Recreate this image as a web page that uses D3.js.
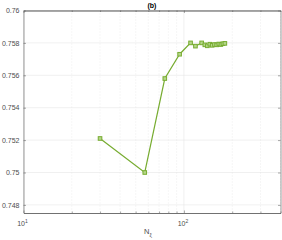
<!DOCTYPE html>
<html>
<head>
<meta charset="utf-8">
<script src="https://cdn.jsdelivr.net/npm/d3@7"></script>
<style>
  body { margin: 0; background: #fff; }
  svg { font-family: Helvetica, Arial, "Liberation Sans", sans-serif; }
</style>
</head>
<body>
<div class="chart"></div>
<script>
// values
var nXi = [30, 57, 76, 94, 110, 118, 129, 135, 140, 145, 150, 155, 160, 165, 170, 175, 180];
var acc = [0.7521, 0.7500, 0.7558, 0.7573, 0.7580, 0.7578, 0.7580, 0.75788, 0.75782, 0.75792,
           0.75785, 0.75790, 0.75788, 0.75793, 0.75790, 0.75795, 0.75797];
var yTicks = [0.748, 0.75, 0.752, 0.754, 0.756, 0.758, 0.76];
var yTickLabels = ['0.748', '0.75', '0.752', '0.754', '0.756', '0.758', '0.76'];
var xMajor = [10, 100];
var xMinor = [20, 30, 40, 50, 60, 70, 80, 90, 200, 300, 400];

var w = 282
  , h = 240
  , m = { top: 10.5, right: 1.5, bottom: 27, left: 23.5 }
  , green = '#77ac30'
  , axisCol = '#262626';

var svg = d3.select('.chart')
            .append('svg')
            .attr('width', w)
            .attr('height', h);

var x = d3.scaleLog().domain([10, 400]).range([m.left, w - m.right]);
var y = d3.scaleLinear().domain([0.7475, 0.76]).range([h - m.bottom, m.top]);

var g = svg.append('g');

// grid
g.selectAll('line.ygrid')
  .data(yTicks)
  .enter()
  .append('line')
  .attr('x1', m.left).attr('x2', w - m.right)
  .attr('y1', function (d) { return y(d); })
  .attr('y2', function (d) { return y(d); })
  .attr('stroke', '#e6e6e6')
  .attr('stroke-width', 0.6);

g.selectAll('line.xgrid')
  .data(xMajor)
  .enter()
  .append('line')
  .attr('x1', function (d) { return x(d); })
  .attr('x2', function (d) { return x(d); })
  .attr('y1', m.top).attr('y2', h - m.bottom)
  .attr('stroke', '#e6e6e6')
  .attr('stroke-width', 0.6);

g.selectAll('line.xminor')
  .data(xMinor)
  .enter()
  .append('line')
  .attr('x1', function (d) { return x(d); })
  .attr('x2', function (d) { return x(d); })
  .attr('y1', m.top).attr('y2', h - m.bottom)
  .attr('stroke', '#e2e2e2')
  .attr('stroke-width', 0.6)
  .attr('stroke-dasharray', '1,2');

// axes (ticks inward, box)
var yAxis = d3.axisLeft(y).tickValues(yTicks)
  .tickFormat(function (d, i) { return yTickLabels[i]; })
  .tickSizeInner(-2.5).tickSizeOuter(0).tickPadding(4);

var ya = svg.append('g')
  .attr('transform', 'translate(' + m.left + ',0)')
  .call(yAxis);
ya.selectAll('text').attr('font-size', 7).attr('fill', '#4d4d4d');

var yr = svg.append('g')
  .attr('transform', 'translate(' + (w - m.right) + ',0)')
  .call(d3.axisRight(y).tickValues(yTicks).tickFormat('').tickSizeInner(-2.5).tickSizeOuter(0));

var xAxis = d3.axisBottom(x).tickValues(xMajor).tickFormat('')
  .tickSizeInner(-2.5).tickSizeOuter(0);
svg.append('g')
  .attr('transform', 'translate(0,' + (h - m.bottom) + ')')
  .call(xAxis);
svg.append('g')
  .attr('transform', 'translate(0,' + (h - m.bottom) + ')')
  .call(d3.axisBottom(x).tickValues(xMinor).tickFormat('').tickSizeInner(-1.5).tickSizeOuter(0));
svg.append('g')
  .attr('transform', 'translate(0,' + m.top + ')')
  .call(d3.axisTop(x).tickValues(xMajor).tickFormat('').tickSizeInner(-2.5).tickSizeOuter(0));
svg.append('g')
  .attr('transform', 'translate(0,' + m.top + ')')
  .call(d3.axisTop(x).tickValues(xMinor).tickFormat('').tickSizeInner(-1.5).tickSizeOuter(0));

svg.selectAll('.domain').attr('stroke', '#555').attr('stroke-width', 0.6);
svg.selectAll('.tick line').attr('stroke', '#555').attr('stroke-width', 0.5);

// x tick labels 10^n
xMajor.forEach(function (d) {
  var t = svg.append('text')
    .attr('x', x(d) - 1)
    .attr('y', h - m.bottom + 13)
    .attr('text-anchor', 'middle')
    .attr('font-size', 7)
    .attr('fill', '#4d4d4d');
  t.append('tspan').text('10');
  t.append('tspan').attr('dy', -3).attr('font-size', 5).text(Math.round(Math.log10(d)));
});

// axis label
var xl = svg.append('text')
  .attr('x', (m.left + w - m.right) / 2 - 4)
  .attr('y', h - 6)
  .attr('text-anchor', 'middle')
  .attr('font-size', 7.5)
  .attr('fill', '#4d4d4d');
xl.append('tspan').text('N');
xl.append('tspan').attr('dy', 3).attr('font-size', 5.5).text('ξ');

// title
svg.append('text')
  .attr('x', (m.left + w - m.right) / 2)
  .attr('y', 7.5)
  .attr('text-anchor', 'middle')
  .attr('font-size', 7)
  .attr('font-weight', 'bold')
  .attr('fill', '#000')
  .text('(b)');

// series
var pts = nXi.map(function (d, i) { return [d, acc[i]]; });

var line = d3.line()
  .x(function (d) { return x(d[0]); })
  .y(function (d) { return y(d[1]); });

svg.append('path')
  .datum(pts)
  .attr('fill', 'none')
  .attr('stroke', green)
  .attr('stroke-width', 1.2)
  .attr('d', line);

svg.selectAll('rect.mk')
  .data(pts)
  .enter()
  .append('rect')
  .attr('class', 'mk')
  .attr('x', function (d) { return x(d[0]) - 1.8; })
  .attr('y', function (d) { return y(d[1]) - 1.8; })
  .attr('width', 3.6)
  .attr('height', 3.6)
  .attr('fill', '#b5d68a')
  .attr('stroke', green)
  .attr('stroke-width', 1);
</script>
</body>
</html>
